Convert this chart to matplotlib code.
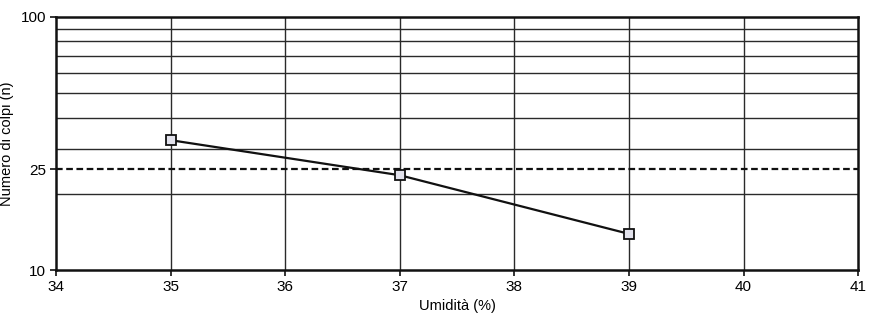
import matplotlib
matplotlib.use("Agg")
import matplotlib.pyplot as plt
from matplotlib.ticker import FixedLocator, NullFormatter, FixedFormatter

plt.rcParams['font.family'] = ['Liberation Sans', 'DejaVu Sans']

umidita = [35, 37, 39]
colpi = [32.6, 23.7, 13.9]
grid_y = [20, 30, 40, 50, 60, 70, 80, 90]
grid_x = [35, 36, 37, 38, 39, 40]
y_ticks = [10, 25, 100]
x_ticks = [34, 35, 36, 37, 38, 39, 40, 41]
ref_n = 25

fig = plt.figure(figsize=(8.7, 3.2), dpi=100)
ax = fig.add_axes([0.0644, 0.156, 0.922, 0.791])
ax.set_yscale('log')
ax.set_xlim(34, 41)
ax.set_ylim(10, 100)

for gy in grid_y:
    ax.axhline(gy, color='#2a2a2a', lw=1.0, zorder=1)
for gx in grid_x:
    ax.axvline(gx, color='#2a2a2a', lw=1.0, zorder=1)
ax.axhline(ref_n, color='#111111', lw=1.6, ls=(0, (3, 1.6)), zorder=2)

ax.plot(umidita, colpi, color='#111111', lw=1.6, marker='s', markersize=7.5,
        markerfacecolor='#e2e2ec', markeredgecolor='#111111', markeredgewidth=1.3, zorder=3)

ax.yaxis.set_major_locator(FixedLocator(y_ticks))
ax.yaxis.set_major_formatter(FixedFormatter([str(v) for v in y_ticks]))
ax.yaxis.set_minor_locator(FixedLocator([]))
ax.yaxis.set_minor_formatter(NullFormatter())
ax.set_xticks(x_ticks)
ax.set_xticklabels([str(v) for v in x_ticks])
ax.tick_params(axis='both', labelsize=11, length=4, width=1.2, color='#111111', pad=3)

for s in ax.spines.values():
    s.set_linewidth(1.8)
    s.set_color('#111111')

ax.set_xlabel('Umidità (%)', fontsize=10.5, labelpad=4)
ax.set_ylabel('Numero di colpi (n)', fontsize=10.5, labelpad=5)

fig.savefig('out.png', dpi=100)
